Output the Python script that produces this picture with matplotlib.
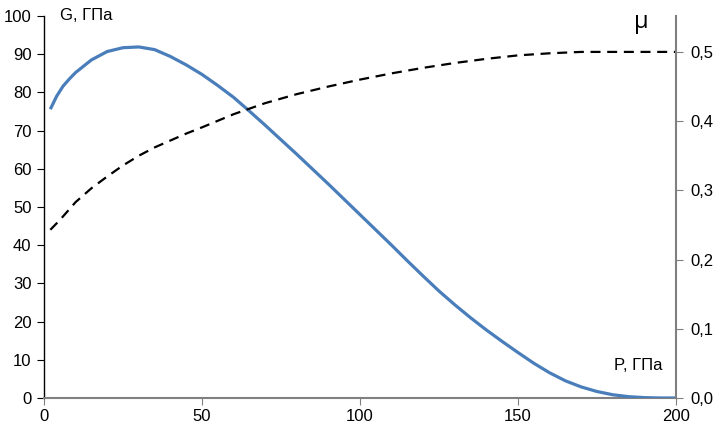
import matplotlib
matplotlib.use("Agg")
import matplotlib.pyplot as plt

plt.rcParams['font.family'] = ['Liberation Sans', 'DejaVu Sans']

# G(P), GPa
p_g = [2, 4, 6, 8, 10, 15, 20, 25, 30, 35, 40, 45, 50, 55, 60, 65, 70, 75,
       80, 85, 90, 95, 100, 105, 110, 115, 120, 125, 130, 135, 140, 145, 150,
       155, 160, 165, 170, 175, 180, 185, 190, 195, 200]
g_vals = [75.6, 79.0, 81.6, 83.5, 85.2, 88.5, 90.7, 91.7, 91.9, 91.2, 89.4,
          87.2, 84.7, 81.8, 78.7, 75.1, 71.4, 67.6, 63.8, 59.9, 56.0, 52.0,
          48.0, 44.0, 40.0, 35.9, 31.9, 28.0, 24.4, 21.0, 17.8, 14.8, 11.9,
          9.1, 6.6, 4.5, 2.9, 1.7, 0.85, 0.35, 0.1, 0.0, 0.0]

# mu(P)
p_mu = [2, 5, 10, 15, 20, 25, 30, 35, 40, 45, 50, 60, 70, 80, 90, 100, 110,
        120, 130, 140, 150, 160, 170, 180, 190, 200]
mu_vals = [0.243, 0.257, 0.283, 0.303, 0.320, 0.336, 0.350, 0.362, 0.372,
           0.382, 0.391, 0.410, 0.426, 0.439, 0.450, 0.460, 0.469, 0.477,
           0.484, 0.490, 0.495, 0.498, 0.500, 0.500, 0.500, 0.500]

x_ticks = [0, 50, 100, 150, 200]
g_ticks = list(range(0, 101, 10))
mu_ticks = [0.0, 0.1, 0.2, 0.3, 0.4, 0.5]
mu_labels = ['0,0', '0,1', '0,2', '0,3', '0,4', '0,5']

fig = plt.figure(figsize=(7.2, 4.26), dpi=100)
ax = fig.add_axes([44/720, 1-398/426, 632/720, 382/426])
ax2 = ax.twinx()

ax.plot(p_g, g_vals, color='#4a7ebb', lw=2.3, solid_capstyle='butt',
        solid_joinstyle='round', zorder=3)
ax2.plot(p_mu, mu_vals, color='black', lw=1.6, dashes=(4.5, 3.0))

ax.set_xlim(0, 200)
ax.set_ylim(0, 100)
ax2.set_ylim(0, 0.5 * 100 / 90.6)

ax.set_xticks(x_ticks)
ax.set_yticks(g_ticks)
ax2.set_yticks(mu_ticks)
ax2.set_yticklabels(mu_labels)

for a in (ax, ax2):
    a.spines['top'].set_visible(False)
ax.spines['right'].set_visible(False)
ax2.spines['left'].set_visible(False)
ax2.spines['bottom'].set_visible(False)
ax.spines['left'].set_color('black')
ax.spines['bottom'].set_color('#808080')
ax2.spines['right'].set_color('#808080')
ax.spines['bottom'].set_linewidth(1.5)
ax2.spines['right'].set_linewidth(1.5)
ax.spines['left'].set_linewidth(1.0)

fs = 12
ax.tick_params(axis='y', direction='out', length=5, labelsize=fs, colors='black', pad=4)
ax.tick_params(axis='x', direction='out', length=5, labelsize=fs, color='#808080', labelcolor='black', pad=3)
ax2.tick_params(axis='y', direction='out', length=5, labelsize=fs, color='#808080', labelcolor='black', pad=5)

fig.text(60/720, 1-16/426, 'G, ГПа', fontsize=fs, va='center', ha='left')
fig.text(641/720, 1-22/426, 'μ', fontsize=17, va='center', ha='center', family=['Open Sans', 'DejaVu Sans'])
fig.text(662/720, 1-365/426, 'P, ГПа', fontsize=fs, va='center', ha='right')

fig.savefig('out.png', dpi=100)
